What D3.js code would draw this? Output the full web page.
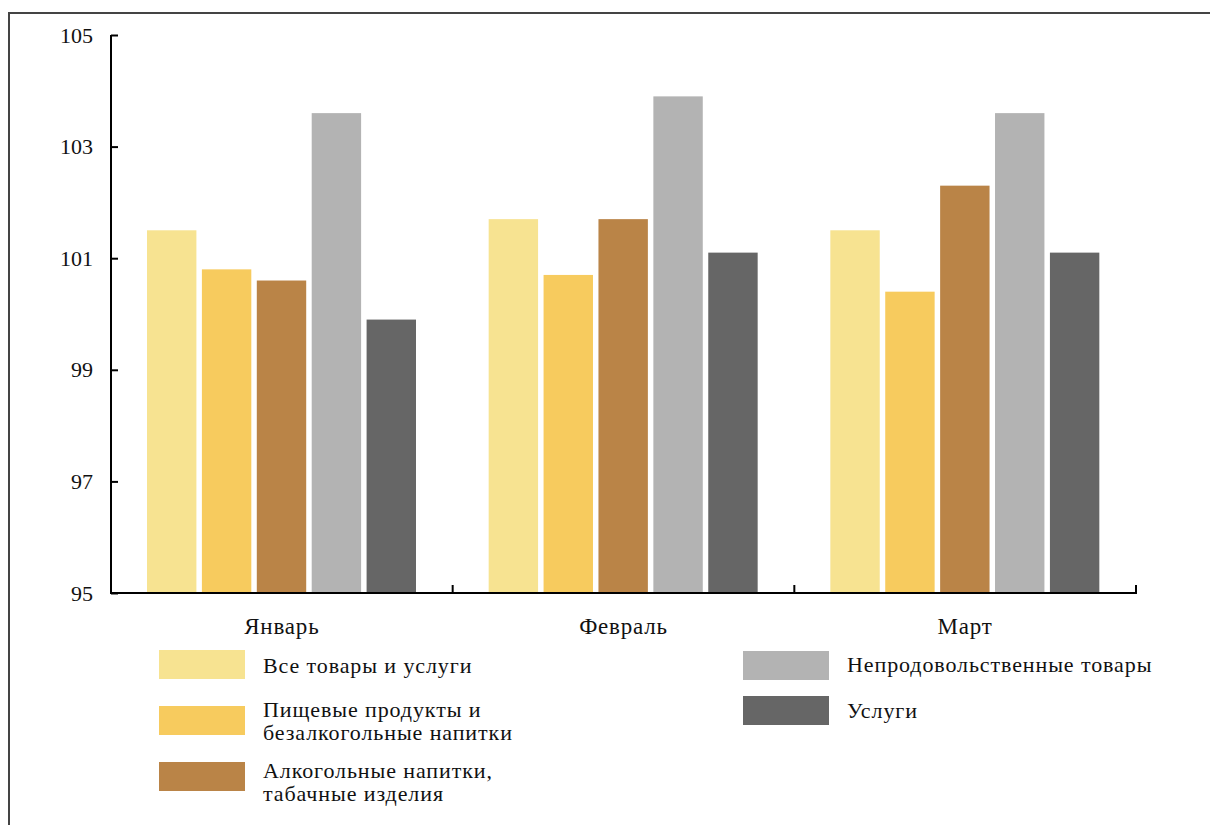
<!DOCTYPE html>
<html><head><meta charset="utf-8">
<script src="https://cdn.jsdelivr.net/npm/d3@7/dist/d3.min.js"></script>
<style>body{margin:0;background:#fff}svg{display:block}</style>
</head><body><svg id="c" width="1210" height="825"></svg>
<script>
const months = ["Январь", "Февраль", "Март"];
const seriesNames = ["Все товары и услуги", "Пищевые продукты и безалкогольные напитки", "Алкогольные напитки, табачные изделия", "Непродовольственные товары", "Услуги"];
const legendLines = [["Все товары и услуги"], ["Пищевые продукты и", "безалкогольные напитки"], ["Алкогольные напитки,", "табачные изделия"], ["Непродовольственные товары"], ["Услуги"]];
const allGoods = [101.5, 101.7, 101.5];
const food = [100.8, 100.7, 100.4];
const alcohol = [100.6, 101.7, 102.3];
const nonFood = [103.6, 103.9, 103.6];
const services = [99.9, 101.1, 101.1];
const yTicks = [95, 97, 99, 101, 103, 105];
const colors = ["#F7E391", "#F7CB5E", "#BA8447", "#B3B3B3", "#666666"];

const FONT = "'Liberation Serif'";
const seriesValues = [allGoods, food, alcohol, nonFood, services];
const svg = d3.select("#c");

// frame
svg.append("path").attr("d", "M9,825 V13 H1212").attr("fill", "none").attr("stroke", "#444").attr("stroke-width", 2);

const x0 = d3.scaleBand().domain(months).range([111, 1136]).padding(0);
const x1 = d3.scaleBand().domain(d3.range(5)).range([36, 305]).paddingInner(0.1).paddingOuter(0);
const y = d3.scaleLinear().domain([95, 105]).range([593, 35]);

// bars
months.forEach((m, i) => {
  const g = svg.append("g").attr("transform", `translate(${x0(m)},0)`);
  g.selectAll("rect").data(seriesValues.map((s, k) => ({k, v: s[i]}))).join("rect")
    .attr("x", d => x1(d.k)).attr("width", x1.bandwidth())
    .attr("y", d => y(d.v)).attr("height", d => y(95) - y(d.v))
    .attr("fill", d => colors[d.k]);
});

// y axis
const yAxis = svg.append("g").attr("transform", "translate(111,0)")
  .call(d3.axisLeft(y).tickValues(yTicks).tickSize(-7).tickPadding(18).tickFormat(d3.format("d")));
yAxis.attr("font-family", FONT);
yAxis.select(".domain").attr("stroke", "#000").attr("stroke-width", 2).attr("d", `M0,${y(105)}V${y(95)}`);
yAxis.selectAll(".tick line").attr("stroke", "#000").attr("stroke-width", 2);
yAxis.selectAll(".tick text").attr("font-size", 22).attr("fill", "#111").attr("font-family", FONT);

// x axis
const xg = svg.append("g");
xg.append("line").attr("x1", 110).attr("x2", 1137).attr("y1", y(95)).attr("y2", y(95)).attr("stroke", "#000").attr("stroke-width", 2);
months.forEach(m => {
  const xe = x0(m) + x0.bandwidth();
  xg.append("line").attr("x1", xe).attr("x2", xe).attr("y1", y(95)).attr("y2", y(95) - 8).attr("stroke", "#000").attr("stroke-width", 2);
  xg.append("text").attr("x", x0(m) + x0.bandwidth() / 2).attr("y", 634).attr("text-anchor", "middle")
    .attr("font-size", 23).attr("letter-spacing", 0.8).attr("font-family", FONT).attr("fill", "#111").text(m);
});

// legend
const legendPos = [[159, 650, 673], [159, 706, 717], [159, 762, 778], [743, 651, 672], [743, 696, 718]];
seriesNames.forEach((n, k) => {
  const [lx, ly, base] = legendPos[k];
  svg.append("rect").attr("x", lx).attr("y", ly).attr("width", 86).attr("height", 29).attr("fill", colors[k]);
  const lines = legendLines[k];
  const t = svg.append("text").attr("font-size", 22).attr("font-family", FONT)
    .attr("fill", "#111").attr("letter-spacing", 0.9);
  lines.forEach((l, j) => t.append("tspan").attr("x", lx + 104).attr("y", base + j * 23).text(l));
});
</script></body></html>
